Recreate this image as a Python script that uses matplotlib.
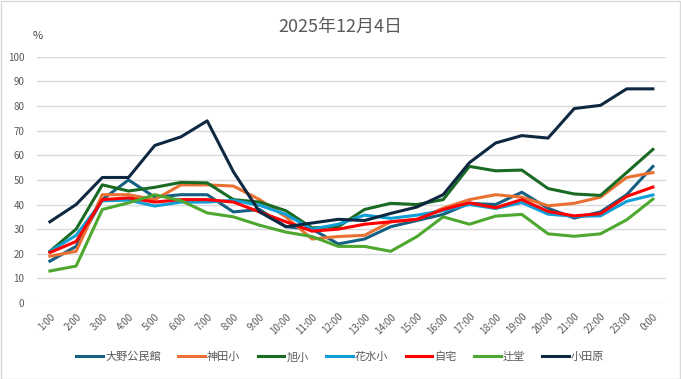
import matplotlib
matplotlib.use("Agg")
import matplotlib.pyplot as plt
from matplotlib.patches import Rectangle

plt.rcParams['font.family'] = ['Noto Sans CJK JP', 'DejaVu Sans']

hours = ["1:00", "2:00", "3:00", "4:00", "5:00", "6:00", "7:00", "8:00", "9:00", "10:00",
         "11:00", "12:00", "13:00", "14:00", "15:00", "16:00", "17:00", "18:00", "19:00",
         "20:00", "21:00", "22:00", "23:00", "0:00"]

ono = [17, 23, 42, 50, 43, 44, 44, 37, 38, 31, 30, 24, 26, 31, 33.5, 36, 40.5, 40, 45, 38.5, 34.5, 37, 44, 55.5]
kanda = [19, 21, 44, 44, 42, 48, 48, 47.5, 42, 35, 26, 27, 27.5, 33, 34, 38.5, 42, 44, 43, 39.5, 40.5, 43, 51, 53]
asahi = [21, 30, 48, 45.5, 47, 49, 48.8, 42, 41, 37.5, 30.5, 31, 38, 40.5, 40, 42, 55.5, 53.7, 54, 46.5, 44.3, 43.7, 53, 62.4]
hanamizu = [21, 27.5, 41.5, 41.8, 39.4, 41, 41, 41.7, 39.7, 36, 30, 32, 35.7, 34.4, 35.7, 37.5, 40, 38.4, 40.8, 36.1, 35.2, 35.4, 41.3, 43.9]
jitaku = [20.5, 25, 42, 42.7, 41, 42, 42, 41, 37, 33, 29.2, 30, 32, 33, 34, 38, 40.7, 38.7, 42, 37.2, 35.4, 36.3, 43.3, 47.1]
tsujido = [13, 15, 38, 40.7, 44, 41.6, 36.6, 35, 31.6, 28.8, 27, 23, 23, 21, 27, 35, 32, 35.3, 36, 28.1, 27.1, 28.1, 33.8, 42.2]
odawara = [33, 40, 51, 51, 64, 67.5, 74, 53.3, 37, 31, 32.5, 34, 33.5, 36.4, 39, 44, 57, 65, 68, 67, 79, 80.3, 87, 87]

series_names = ["大野公民館", "神田小", "旭小", "花水小", "自宅", "辻堂", "小田原"]
series_values = [ono, kanda, asahi, hanamizu, jitaku, tsujido, odawara]
colors = ["#156082", "#E97132", "#196B24", "#0F9ED5", "#FF0000", "#4EA72E", "#0E2841"]

fig = plt.figure(figsize=(6.81, 3.79), dpi=100)
ax = fig.add_axes([0.054, 0.2005, 0.924, 0.6495])

x = list(range(len(hours)))
for name, vals, c in zip(series_names, series_values, colors):
    ax.plot(x, vals, color=c, linewidth=2.2, label=name, solid_joinstyle='round')

ax.set_xlim(-0.5, len(hours) - 0.5)
ax.set_ylim(0, 100)
ax.set_yticks(range(0, 101, 10))
ax.set_xticks(x)
ax.set_xticklabels(hours, rotation=45, ha='right', rotation_mode='anchor')
ax.tick_params(axis='both', length=0, labelsize=7, labelcolor='#595959')
ax.tick_params(axis='x', pad=6)
ax.tick_params(axis='y', pad=9)
ax.grid(axis='y', color='#d9d9d9', linewidth=1)
ax.set_axisbelow(True)
for s in ax.spines.values():
    s.set_visible(False)

fig.text(0.5, 0.93, "2025年12月4日", ha='center', va='center', fontsize=13, color='#595959')
fig.text(0.048, 0.905, "%", ha='left', va='center', fontsize=8, color='#404040')

leg = fig.legend(loc='center', bbox_to_anchor=(0.5, 0.058), ncol=7, frameon=False,
                 fontsize=8, handlelength=2.4, handletextpad=0.2, columnspacing=1.55,
                 labelcolor='#595959')
for line in leg.get_lines():
    line.set_linewidth(2.2)

fig.add_artist(Rectangle((0.001, 0.001), 0.997, 0.996, transform=fig.transFigure,
                         fill=False, edgecolor='#d9d9d9', linewidth=1))

fig.savefig("out.png", dpi=100)
